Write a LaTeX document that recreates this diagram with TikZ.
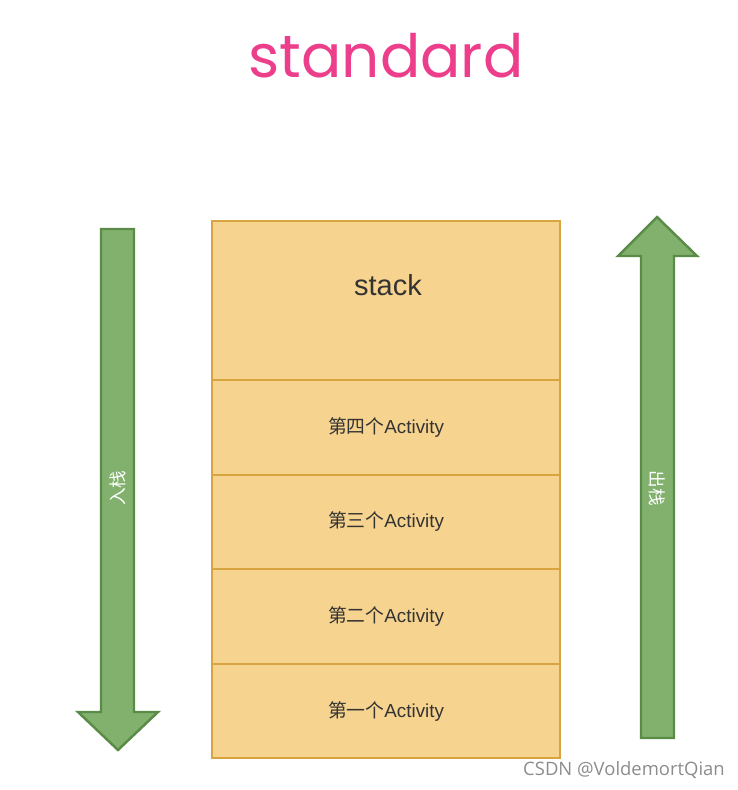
\documentclass[tikz,border=0pt]{standalone}
\usepackage{fontspec}
\setmainfont{Liberation Sans}
\newfontfamily\cjk{Noto Sans CJK SC}
\newfontfamily\titlefont{Poppins}
\newfontfamily\markfont{Open Sans}
\usepackage{tikz}

\definecolor{cellfill}{HTML}{F6D38E}
\definecolor{celledge}{HTML}{D8A440}
\definecolor{arrowfill}{HTML}{82B16E}
\definecolor{arrowedge}{HTML}{5A8C48}
\definecolor{titlepink}{HTML}{EC3E8B}

\tikzset{
  cell/.style={draw=celledge, fill=cellfill, line width=1.2pt, rectangle,
    minimum width=6.96cm, minimum height=1.89cm, outer sep=0pt,
    text=black!80, font=\fontsize{10.7}{12}\selectfont},
  bigarrow/.style={draw=arrowedge, fill=arrowfill, line width=1.4pt, line join=miter},
  arrowtext/.style={text=white, font=\cjk\fontsize{10}{11}\selectfont}
}

\begin{document}
\begin{tikzpicture}[x=0.02cm, y=-0.02cm]
    \useasboundingbox (0,0) rectangle (737,790);
    \node (title) at (386,56) {\titlefont\fontsize{34}{36}\selectfont\color{titlepink}standard};

    % stack cells
    \node[cell, minimum height=3.18cm] (top) at (386,300.5) {};
    \node[font=\fontsize{16.5}{18}\selectfont, text=black!80] (stack) at (388,285) {stack};
    \node[cell] (fourth) at (386,427.5) {{\cjk 第四个}Activity};
    \node[cell] (third) at (386,522) {{\cjk 第三个}Activity};
    \node[cell] (second) at (386,616.5) {{\cjk 第二个}Activity};
    \node[cell] (first) at (386,711) {{\cjk 第一个}Activity};

    % push arrow
    \draw[bigarrow] (101,229) -- (134,229) -- (134,712) -- (158,712) -- (118,750)
        -- (78,712) -- (101,712) -- cycle;
    \node[arrowtext, rotate=90] (push) at (117.5,488) {入栈};

    % pop arrow
    \draw[bigarrow] (641,738) -- (674,738) -- (674,256) -- (697,256) -- (657,217)
        -- (618,256) -- (641,256) -- cycle;
    \node[arrowtext, rotate=-90] (pop) at (657.5,488) {出栈};

    \node[text=black!45, font=\markfont\fontsize{10.5}{12}\selectfont] (mark) at (624,770) {CSDN @VoldemortQian};
\end{tikzpicture}
\end{document}
